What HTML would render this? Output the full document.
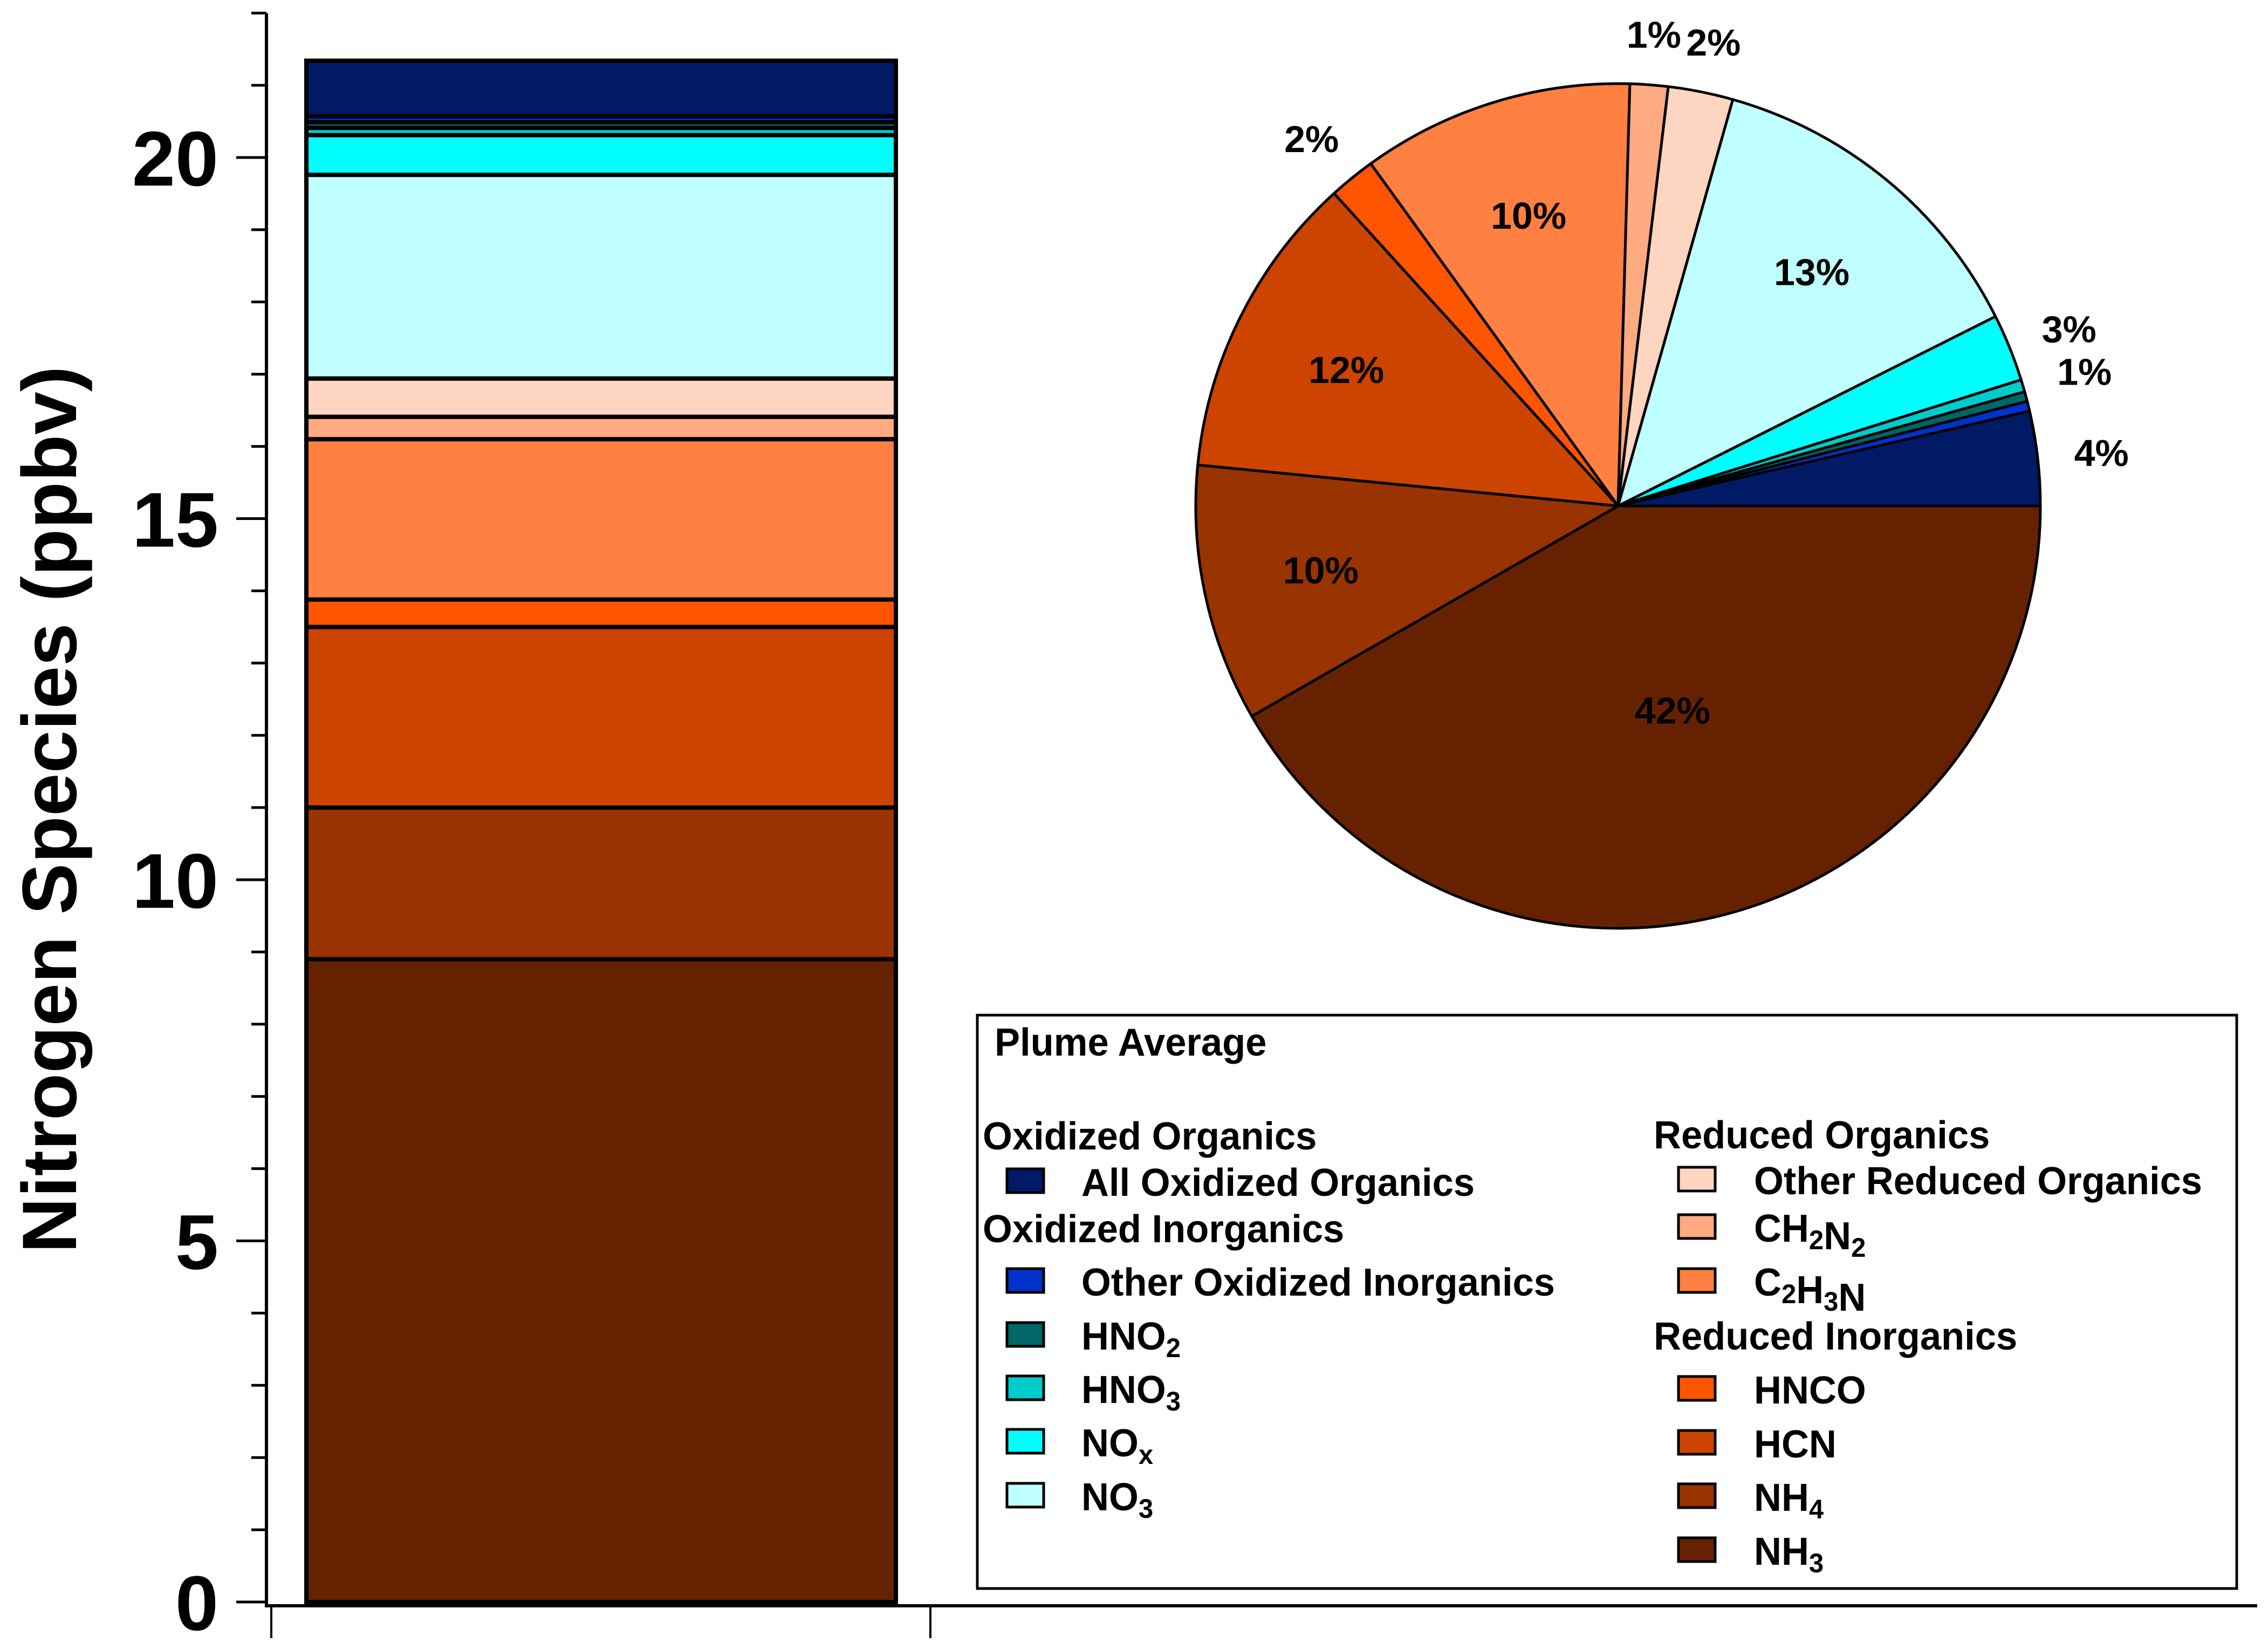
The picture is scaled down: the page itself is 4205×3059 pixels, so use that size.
<!DOCTYPE html>
<html><head><meta charset="utf-8"><style>
html,body{margin:0;padding:0;background:#fff;}
svg{display:block;font-family:"Liberation Sans",Arial,sans-serif;font-weight:bold;}
</style></head><body>
<svg id="chart" width="4205" height="3059" viewBox="0 0 4205 3059" xmlns="http://www.w3.org/2000/svg">
<g id="axes"></g>
<g id="bars"></g>
<g id="pie"></g>
<g id="legend"></g>
</svg>
<script>
// data, from bottom of the stack upward / clockwise from 3 o'clock in the pie
const species = ["NH3","NH4","HCN","HNCO","C2H3N","CH2N2","Other Reduced Organics","NO3","NOx","HNO3","HNO2","Other Oxidized Inorganics","All Oxidized Organics"];
const values = [8.9, 2.1, 2.5, 0.38, 2.22, 0.31, 0.53, 2.82, 0.55, 0.1, 0.08, 0.08, 0.77];
const colors = ["#662200","#993300","#CC4400","#FF5500","#FF8040","#FFAA80","#FDD5C0","#C0FFFF","#00FFFF","#00CCCC","#006666","#0033CC","#001A66"];
const yTicksMajor = [0,5,10,15,20];
const yTickLabels = ["0","5","10","15","20"];
const yMax = 22;

const NS="http://www.w3.org/2000/svg";
function mk(tag, attrs, parent){const e=document.createElementNS(NS,tag);for(const k in attrs)e.setAttribute(k,attrs[k]);parent.appendChild(e);return e;}
const y = v => 2970 - 133.9*v;

// axes
const ax=document.getElementById('axes');
let e=mk('line',{x1:494,y1:y(yMax),x2:494,y2:2980,stroke:'#000','stroke-width':6},ax);

e=mk('line',{x1:491,y1:2977,x2:4185,y2:2977,stroke:'#000','stroke-width':6},ax);

[503,1725].forEach(x=>{const t=mk('line',{x1:x,y1:2977,x2:x,y2:3037,stroke:'#000','stroke-width':4},ax);
});
for(let v=0;v<=yMax;v++){
  const major=yTicksMajor.includes(v);
  const t=mk('line',{x1:major?438:466,y1:y(v),x2:494,y2:y(v),stroke:'#000','stroke-width':5},ax);
  
  
}
yTicksMajor.forEach((v,i)=>{
  const t=mk('text',{x:405,y:y(v)+52,'text-anchor':'end','font-size':144},ax);
  t.textContent=yTickLabels[i];
  
});
e=mk('text',{transform:'translate(141,1501) rotate(-90)','text-anchor':'middle','font-size':143},ax);
e.textContent='Nitrogen Species (ppbv)';


// bar
const bars=document.getElementById('bars');
let cum=0;
values.forEach((v,i)=>{
  const r=mk('rect',{x:568,y:y(cum+v),width:1093,height:y(cum)-y(cum+v),fill:colors[i],stroke:'#000','stroke-width':8},bars);
  
  
  cum+=v;
});

// pie
const pie=document.getElementById('pie');
const total=values.reduce((a,b)=>a+b,0);
const cx=3000, cy=938, R=783;
let a0=0;
values.forEach((v,i)=>{
  const a1=a0+v/total*2*Math.PI;
  const x0=cx+R*Math.cos(a0), y0=cy+R*Math.sin(a0), x1=cx+R*Math.cos(a1), y1=cy+R*Math.sin(a1);
  const large=(a1-a0)>Math.PI?1:0;
  const p=mk('path',{d:`M${cx},${cy} L${x0},${y0} A${R},${R} 0 ${large} 1 ${x1},${y1} Z`,fill:colors[i],stroke:'#000','stroke-width':5,'stroke-linejoin':'round'},pie);
  
  
  const pct=v/total*100;
  if(pct>=0.45){
    const am=(a0+a1)/2, rr= pct>=20?0.5*R:(pct>=5?0.72*R:1.12*R);
    const t=mk('text',{x:cx+rr*Math.cos(am)+(pct<5?25*Math.cos(am):0),y:cy+rr*Math.sin(am)+25,'text-anchor':'middle','font-size':70},pie);
    t.textContent=Math.max(1,Math.round(pct))+'%';
    
    
  }
  a0=a1;
});

// legend
const lg=document.getElementById('legend');
e=mk('rect',{x:1812,y:1882,width:2335,height:1063,fill:'#fff',stroke:'#000','stroke-width':5},lg);

function ltext(x,yb,html,name){
  const t=mk('text',{transform:`translate(${x},${yb}) scale(0.98,1)`,'font-size':72},lg);
  t.innerHTML=html;
  
  
  return t;
}
ltext(1844,1957,'Plume Average','legend-title');
const sub=s=>`<tspan font-size="50" dy="14">${s}</tspan><tspan dy="-14"></tspan>`;
const groups=[
 [1822,2131,'Oxidized Organics'],[1822,2303,'Oxidized Inorganics'],
 [3066,2129,'Reduced Organics'],[3066,2502,'Reduced Inorganics']];
groups.forEach(g=>ltext(g[0],g[1],g[2],'legend-group-header'));
const items=[
 [1867,2005,2217,12,'All Oxidized Organics'],
 [1867,2005,2402,11,'Other Oxidized Inorganics'],
 [1867,2005,2502,10,'HNO'+sub('2')],
 [1867,2005,2601,9,'HNO'+sub('3')],
 [1867,2005,2700,8,'NO'+sub('x')],
 [1867,2005,2800,7,'NO'+sub('3')],
 [3112,3252,2214,6,'Other Reduced Organics'],
 [3112,3252,2302,5,'CH'+sub('2')+'N'+sub('2')],
 [3112,3252,2402,4,'C'+sub('2')+'H'+sub('3')+'N'],
 [3112,3252,2602,3,'HNCO'],
 [3112,3252,2702,2,'HCN'],
 [3112,3252,2801,1,'NH'+sub('4')],
 [3112,3252,2901,0,'NH'+sub('3')]];
items.forEach(it=>{
  const s=mk('rect',{x:it[0],y:it[2]-50,width:68,height:44,fill:colors[it[3]],stroke:'#000','stroke-width':5},lg);
  
  
  ltext(it[1],it[2],it[4],'legend-entry');
});
</script>
</body></html>
